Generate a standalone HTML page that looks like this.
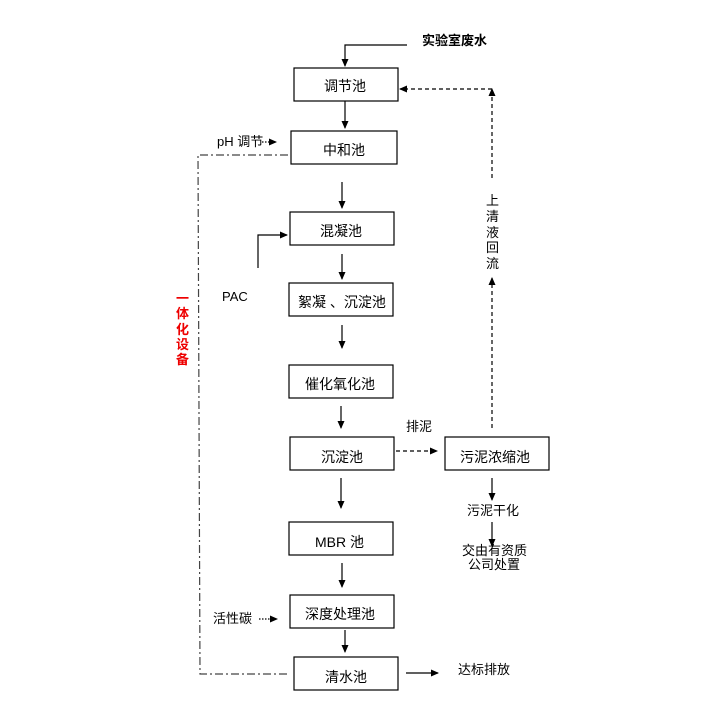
<!DOCTYPE html>
<html><head><meta charset="utf-8"><style>
body{margin:0;background:#fff}
svg text{font-family:"Liberation Sans","Noto Sans CJK SC",sans-serif;font-size:13px;fill:#000}
svg text.b{font-size:14px}
</style></head><body>
<svg width="720" height="720" viewBox="0 0 720 720" xmlns="http://www.w3.org/2000/svg">
<defs>
<marker id="a" markerWidth="8" markerHeight="8" refX="7" refY="4" orient="auto" markerUnits="userSpaceOnUse"><path d="M0,0.5 L8,4 L0,7.5z" fill="#000"/></marker>
</defs>
<g fill="none" stroke="#000" stroke-width="1.2">
<rect x="294" y="68" width="104" height="33"/>
<rect x="291" y="131" width="106" height="33"/>
<rect x="290" y="212" width="104" height="33"/>
<rect x="289" y="283" width="104" height="33"/>
<rect x="289" y="365" width="104" height="33"/>
<rect x="290" y="437" width="104" height="33"/>
<rect x="445" y="437" width="104" height="33"/>
<rect x="289" y="522" width="104" height="33"/>
<rect x="290" y="595" width="104" height="33"/>
<rect x="294" y="657" width="104" height="33"/>
<polyline points="407,45 345,45 345,66" marker-end="url(#a)"/>
<line x1="345" y1="101" x2="345" y2="128" marker-end="url(#a)"/>
<line x1="342" y1="182" x2="342" y2="208" marker-end="url(#a)"/>
<line x1="342" y1="254" x2="342" y2="279" marker-end="url(#a)"/>
<line x1="342" y1="325" x2="342" y2="348" marker-end="url(#a)"/>
<line x1="341" y1="406" x2="341" y2="428" marker-end="url(#a)"/>
<line x1="341" y1="478" x2="341" y2="508" marker-end="url(#a)"/>
<line x1="342" y1="563" x2="342" y2="587" marker-end="url(#a)"/>
<line x1="345" y1="630" x2="345" y2="652" marker-end="url(#a)"/>
<line x1="406" y1="673" x2="438" y2="673" marker-end="url(#a)"/>
<line x1="492" y1="478" x2="492" y2="500" marker-end="url(#a)"/>
<line x1="492" y1="522" x2="492" y2="546" marker-end="url(#a)"/>
<polyline points="258,268 258,235 287,235" marker-end="url(#a)"/>
<g stroke-dasharray="4,3">
<line x1="492" y1="178" x2="492" y2="89" marker-end="url(#a)"/>
<line x1="492" y1="89" x2="400" y2="89" marker-end="url(#a)"/>
<line x1="492" y1="428" x2="492" y2="278" marker-end="url(#a)"/>
<line x1="396" y1="451" x2="437" y2="451" marker-end="url(#a)"/>
</g>
<g stroke-dasharray="1.5,1.5">
<line x1="262" y1="142" x2="276" y2="142" marker-end="url(#a)"/>
<line x1="259" y1="619" x2="277" y2="619" marker-end="url(#a)"/>
</g>
<polyline points="288,155 198,155 200,674 290,674" stroke="#444" stroke-dasharray="8,3,2,3"/>
</g>
<text x="422" y="45" font-weight="bold">实验室废水</text>
<text class="b" x="324" y="91">调节池</text>
<text class="b" x="323" y="155">中和池</text>
<text class="b" x="320" y="236">混凝池</text>
<text class="b" x="298" y="307">絮凝 、沉淀池</text>
<text class="b" x="305" y="389">催化氧化池</text>
<text class="b" x="321" y="462">沉淀池</text>
<text class="b" x="460" y="462">污泥浓缩池</text>
<text class="b" x="315" y="547">MBR 池</text>
<text class="b" x="305" y="619">深度处理池</text>
<text class="b" x="325" y="682">清水池</text>
<text x="217" y="146" font-size="12">pH 调节</text>
<text x="222" y="301" font-size="12">PAC</text>
<text x="213" y="623" font-size="12">活性碳</text>
<text x="406" y="431" font-size="12">排泥</text>
<text x="467" y="515" font-size="12">污泥干化</text>
<text x="462" y="555" font-size="12">交由有资质</text>
<text x="468" y="569" font-size="12">公司处置</text>
<text x="458" y="674" font-size="13">达标排放</text>
<g font-size="13"><text x="486" y="205">上</text><text x="486" y="221">清</text><text x="486" y="237">液</text><text x="486" y="252">回</text><text x="486" y="268">流</text></g>
<g font-size="14" font-weight="bold"><text x="176" y="303" style="fill:#e00">一</text><text x="176" y="318" style="fill:#e00">体</text><text x="176" y="334" style="fill:#e00">化</text><text x="176" y="349" style="fill:#e00">设</text><text x="176" y="364" style="fill:#e00">备</text></g>
</svg>
</body></html>
